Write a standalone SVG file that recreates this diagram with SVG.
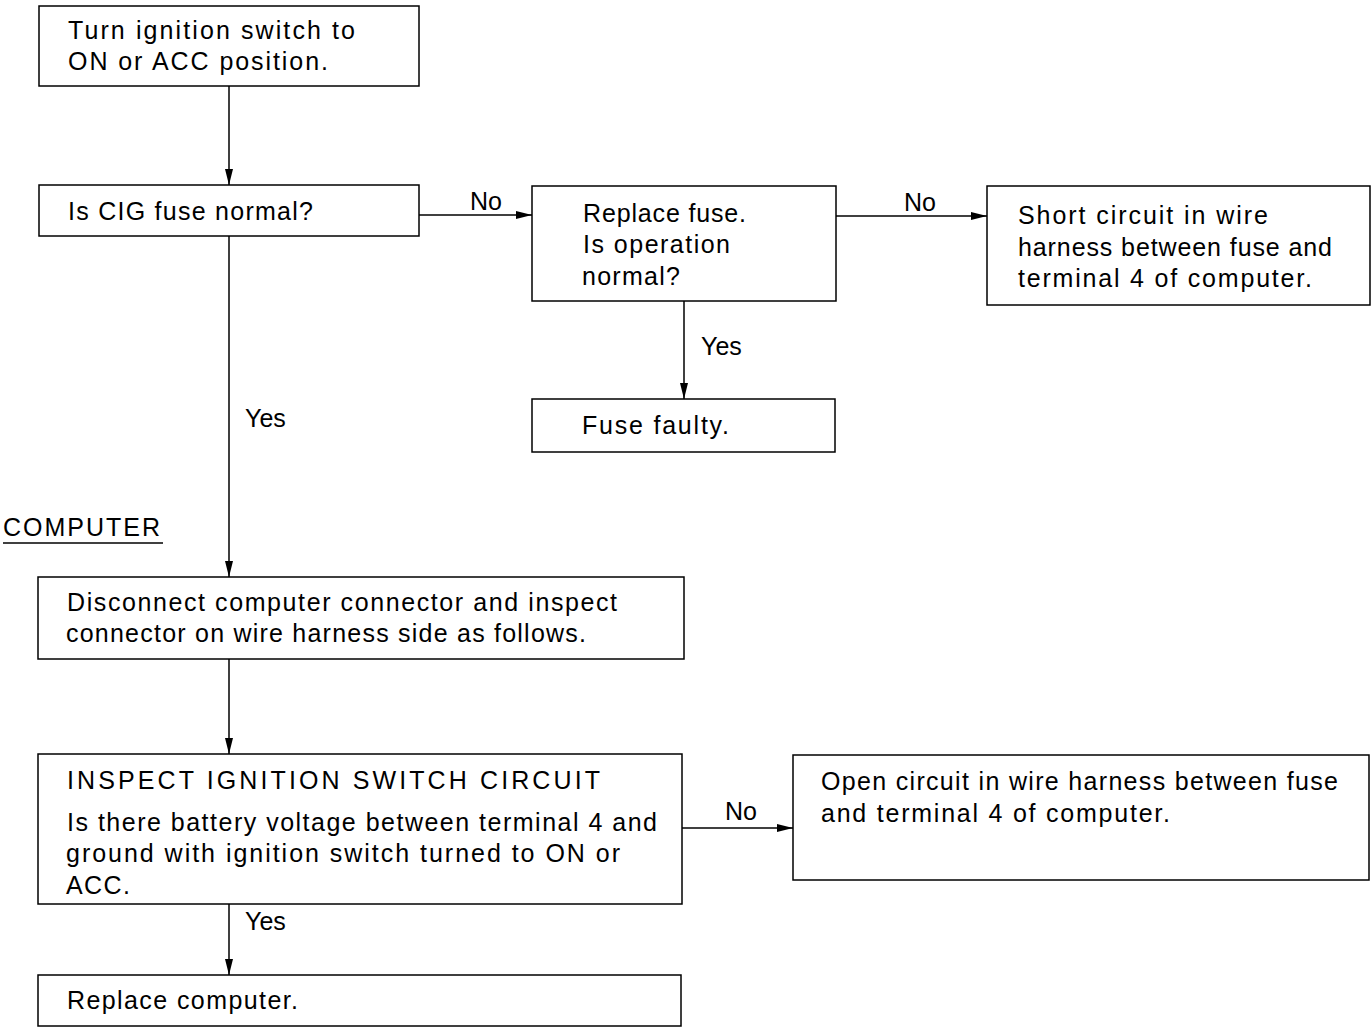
<svg xmlns="http://www.w3.org/2000/svg" width="1372" height="1027" viewBox="0 0 1372 1027">
<defs>
<marker id="ah" markerWidth="16" markerHeight="8" refX="16" refY="4" orient="auto" markerUnits="userSpaceOnUse">
<path d="M0,0 L16,4 L0,8 Z" fill="#000"/>
</marker>
<style>
rect{fill:#fff;stroke:#000;stroke-width:1.5}
text{font-family:"Liberation Sans",Arial,sans-serif;font-size:25px;fill:#000}
.c line{stroke:#000;stroke-width:1.5}
.a{marker-end:url(#ah)}
</style>
</defs>
<rect x="0" y="0" width="1372" height="1027" style="stroke:none"/>
<g id="n1"><rect x="39" y="6" width="380" height="80"/><text x="68" y="39" textLength="287" lengthAdjust="spacing">Turn ignition switch to</text><text x="68" y="70" textLength="260" lengthAdjust="spacing">ON or ACC position.</text></g>
<g id="n2"><rect x="39" y="185" width="380" height="51"/><text x="68" y="220" textLength="245" lengthAdjust="spacing">Is CIG fuse normal?</text></g>
<g id="n3"><rect x="532" y="186" width="304" height="115"/><text x="583" y="222" textLength="163" lengthAdjust="spacing">Replace fuse.</text><text x="583" y="253" textLength="147" lengthAdjust="spacing">Is operation</text><text x="582" y="285" textLength="98" lengthAdjust="spacing">normal?</text></g>
<g id="n4"><rect x="987" y="186" width="383" height="119"/><text x="1018" y="224" textLength="250" lengthAdjust="spacing">Short circuit in wire</text><text x="1018" y="256" textLength="314" lengthAdjust="spacing">harness between fuse and</text><text x="1018" y="287" textLength="294" lengthAdjust="spacing">terminal 4 of computer.</text></g>
<g id="n5"><rect x="532" y="399" width="303" height="53"/><text x="582" y="434" textLength="147" lengthAdjust="spacing">Fuse faulty.</text></g>
<g id="label"><text x="3" y="536" textLength="157" lengthAdjust="spacing">COMPUTER</text><line x1="3" y1="543" x2="163" y2="543" stroke="#000" stroke-width="1.5"/></g>
<g id="n6"><rect x="38" y="577" width="646" height="82"/><text x="67" y="611" textLength="550" lengthAdjust="spacing">Disconnect computer connector and inspect</text><text x="66" y="642" textLength="520" lengthAdjust="spacing">connector on wire harness side as follows.</text></g>
<g id="n7"><rect x="38" y="754" width="644" height="150"/><text x="67" y="789" textLength="533" lengthAdjust="spacing">INSPECT  IGNITION  SWITCH  CIRCUIT</text><text x="67" y="831" textLength="590" lengthAdjust="spacing">Is there battery voltage between terminal 4 and</text><text x="66" y="862" textLength="554" lengthAdjust="spacing">ground with ignition switch turned to ON or</text><text x="66" y="894" textLength="64" lengthAdjust="spacing">ACC.</text></g>
<g id="n8"><rect x="793" y="755" width="576" height="125"/><text x="821" y="790" textLength="517" lengthAdjust="spacing">Open circuit in wire harness between fuse</text><text x="821" y="822" textLength="349" lengthAdjust="spacing">and terminal 4 of computer.</text></g>
<g id="n9"><rect x="38" y="975" width="643" height="51"/><text x="67" y="1009" textLength="231" lengthAdjust="spacing">Replace computer.</text></g>
<g class="c" id="connectors">
<line class="a" x1="229" y1="86" x2="229" y2="185"/>
<line class="a" x1="229" y1="236" x2="229" y2="577"/>
<line class="a" x1="419" y1="215" x2="532" y2="215"/>
<line class="a" x1="836" y1="216" x2="987" y2="216"/>
<line class="a" x1="684" y1="301" x2="684" y2="399"/>
<line class="a" x1="229" y1="659" x2="229" y2="754"/>
<line class="a" x1="682" y1="828" x2="793" y2="828"/>
<line class="a" x1="229" y1="904" x2="229" y2="975"/>
<text x="470" y="210">No</text>
<text x="904" y="211">No</text>
<text x="701" y="355">Yes</text>
<text x="245" y="427">Yes</text>
<text x="725" y="820">No</text>
<text x="245" y="930">Yes</text>
</g>
</svg>
